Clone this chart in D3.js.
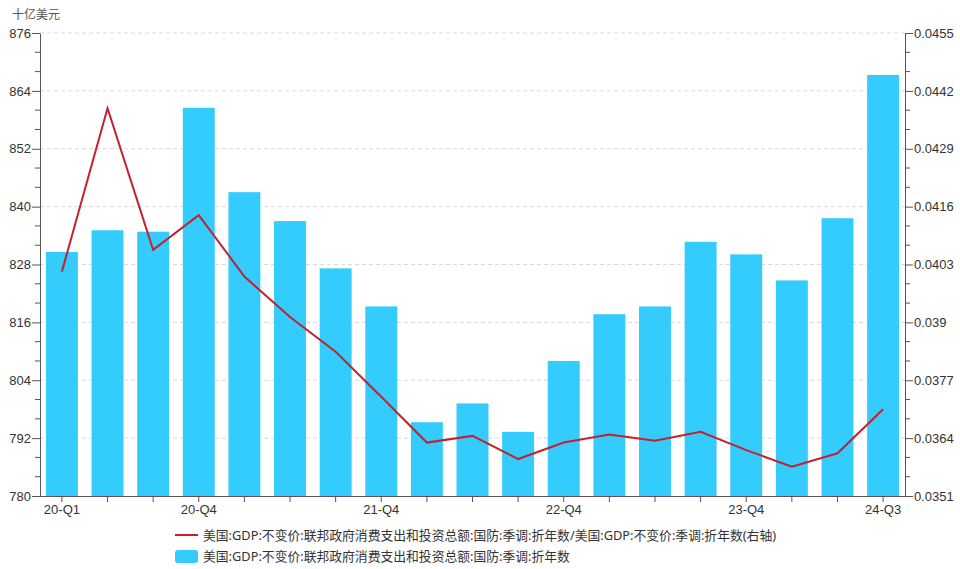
<!DOCTYPE html>
<html>
<head>
<meta charset="utf-8">
<title></title>
<style>
	body { margin: 0; background: #fff; }
	svg { display: block; font-family: "Noto Sans", "Noto Sans CJK SC", sans-serif; }
</style>
</head>
<body>
<svg id="container" width="960" height="569"></svg>
<script src="https://cdn.jsdelivr.net/npm/d3@7"></script>
<script>
// quarters, labelled ticks and the two series
let quarters = ["20-Q1","20-Q2","20-Q3","20-Q4","21-Q1","21-Q2","21-Q3","21-Q4",
	"22-Q1","22-Q2","22-Q3","22-Q4","23-Q1","23-Q2","23-Q3","23-Q4","24-Q1","24-Q2","24-Q3"]
let shownLabels = ["20-Q1","20-Q4","21-Q4","22-Q4","23-Q4","24-Q3"]
let defense = [830.6, 835.1, 834.8, 860.5, 843.0, 837.0, 827.2, 819.3, 795.3, 799.2,
	793.3, 808.0, 817.7, 819.3, 832.7, 830.1, 824.7, 837.6, 867.3]
let share = [0.04014, 0.04381, 0.04063, 0.04141, 0.04003, 0.03912, 0.03834, 0.03733, 0.03630, 0.03645,
	0.03593, 0.03630, 0.03648, 0.03634, 0.03654, 0.03613, 0.03576, 0.03606, 0.03705]
let leftTicks = [780, 792, 804, 816, 828, 840, 852, 864, 876]
let rightTicks = [0.0351, 0.0364, 0.0377, 0.039, 0.0403, 0.0416, 0.0429, 0.0442, 0.0455]
let unitLabel = "十亿美元"
let lineName = "美国:GDP:不变价:联邦政府消费支出和投资总额:国防:季调:折年数/美国:GDP:不变价:季调:折年数(右轴)"
let barName = "美国:GDP:不变价:联邦政府消费支出和投资总额:国防:季调:折年数"

let svg = d3.select("#container")
let plotLeft = 40, plotRight = 905, plotTop = 33, plotBottom = 496
let axisColor = "#5b5151", textColor = "#333"

let x = d3.scaleBand().domain(quarters).range([plotLeft, plotRight]).paddingInner(0.3).paddingOuter(0.13)
let yL = d3.scaleLinear().domain([780, 876]).range([plotBottom, plotTop])
let yR = d3.scaleLinear().domain([0.0351, 0.0455]).range([plotBottom, plotTop])

// dashed grid at the major ticks
svg.append("g").selectAll("line").data(leftTicks.slice(1)).enter().append("line")
	.attr("x1", plotLeft).attr("x2", plotRight)
	.attr("y1", d => yL(d)).attr("y2", d => yL(d))
	.attr("stroke", "#d9d9d9").attr("stroke-dasharray", "4,3")

// bars
svg.append("g").selectAll("rect").data(defense).enter().append("rect")
	.attr("x", (d, i) => x(quarters[i]))
	.attr("width", x.bandwidth())
	.attr("y", d => yL(d))
	.attr("height", d => plotBottom - yL(d))
	.attr("fill", "#33ccfc")

// ratio line on the right axis
let line = d3.line().x((d, i) => x(quarters[i]) + x.bandwidth() / 2).y(d => yR(d))
svg.append("path").datum(share)
	.attr("d", line).attr("fill", "none")
	.attr("stroke", "#c4202e").attr("stroke-width", 2)

// minor ticks, two between each pair of major ticks
function minors(ticks) {
	let out = []
	for (let i = 0; i < ticks.length - 1; i++) {
		let step = (ticks[i + 1] - ticks[i]) / 3
		out.push(ticks[i] + step, ticks[i] + 2 * step)
	}
	return out
}

function styleAxis(g) {
	g.selectAll("path,line").attr("stroke", axisColor)
	g.selectAll("text").attr("fill", textColor).style("font-size", "13px")
}

let gL = svg.append("g").attr("transform", `translate(${plotLeft},0)`)
	.call(d3.axisLeft(yL).tickValues(leftTicks).tickSize(8).tickPadding(1).tickSizeOuter(0))
gL.selectAll(".minor").data(minors(leftTicks)).enter().append("line").attr("class", "minor")
	.attr("x1", -5).attr("x2", 0).attr("y1", d => yL(d)).attr("y2", d => yL(d))
styleAxis(gL)

let gR = svg.append("g").attr("transform", `translate(${plotRight},0)`)
	.call(d3.axisRight(yR).tickValues(rightTicks).tickSize(8).tickPadding(1).tickSizeOuter(0)
		.tickFormat(d => +d.toFixed(4)))
gR.selectAll(".minor").data(minors(rightTicks)).enter().append("line").attr("class", "minor")
	.attr("x1", 0).attr("x2", 5).attr("y1", d => yR(d)).attr("y2", d => yR(d))
styleAxis(gR)

let gX = svg.append("g").attr("transform", `translate(0,${plotBottom})`)
	.call(d3.axisBottom(x).tickSize(6).tickPadding(3).tickSizeOuter(0)
		.tickFormat(d => shownLabels.includes(d) ? d : ""))
gX.select(".domain").attr("d", `M${plotLeft},0.5H${plotRight}`)
styleAxis(gX)

svg.append("text").attr("x", 12).attr("y", 19).text(unitLabel)
	.attr("fill", "#555").style("font-size", "12px")

// legend
let lg = svg.append("g").style("font-size", "12.8px").attr("fill", textColor)
lg.append("line").attr("x1", 175).attr("x2", 198).attr("y1", 535).attr("y2", 535)
	.attr("stroke", "#c4202e").attr("stroke-width", 2)
lg.append("text").attr("x", 203).attr("y", 539.5).text(lineName)
lg.append("rect").attr("x", 175).attr("y", 550).attr("width", 23).attr("height", 13).attr("rx", 3)
	.attr("fill", "#33ccfc")
lg.append("text").attr("x", 203).attr("y", 561).text(barName)
</script>
</body>
</html>
